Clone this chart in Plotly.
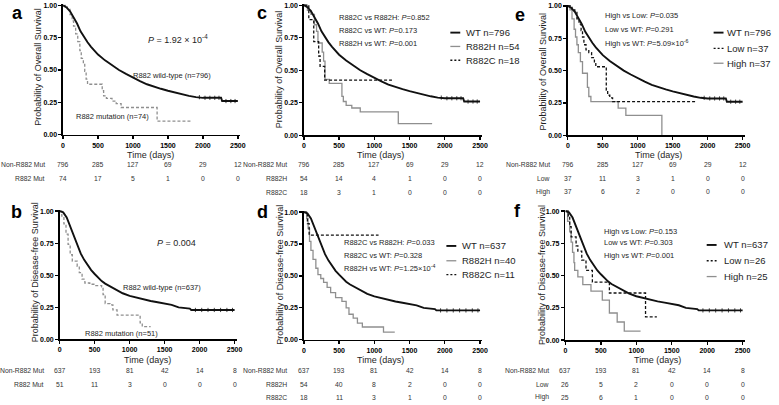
import plotly.graph_objects as go

W, H = 779, 405
FONT = "Liberation Sans, Arial, sans-serif"

# ---------------- data ----------------
day_ticks = [0, 500, 1000, 1500, 2000, 2500]
surv_ticks = [0, 0.25, 0.5, 0.75, 1.0]
surv_ticktext = ["0.00", "0.25", "0.50", "0.75", "1.00"]

# Overall survival, R882 wild-type (n=796)
wt_os_t = [0, 50, 100, 150, 200, 250, 300, 350, 400, 450, 500, 600, 700, 800, 900, 1000,
           1100, 1200, 1300, 1400, 1500, 1600, 1700, 1800, 1900, 2000, 2260, 2275, 2500]
wt_os_s = [1.0, 0.985, 0.955, 0.91, 0.86, 0.80, 0.755, 0.715, 0.68, 0.65, 0.62, 0.575, 0.535,
           0.50, 0.47, 0.44, 0.415, 0.39, 0.37, 0.355, 0.34, 0.325, 0.31, 0.30, 0.29, 0.285,
           0.285, 0.26, 0.26]
wt_os_censor_t = [1950, 2030, 2100, 2170, 2230, 2330, 2400, 2460]
# Overall survival, R882 mutation (n=74)
mut_os_t = [0, 60, 100, 130, 150, 180, 210, 240, 260, 290, 310, 330, 350, 540, 560, 580, 620,
            700, 760, 830, 1345, 1840]
mut_os_s = [1.0, 0.97, 0.93, 0.88, 0.84, 0.78, 0.72, 0.65, 0.59, 0.55, 0.49, 0.43, 0.39, 0.39,
            0.34, 0.30, 0.28, 0.26, 0.24, 0.21, 0.105, 0.105]
# Disease-free survival, R882 wild-type (n=637)
wt_dfs_t = [0, 50, 100, 150, 200, 250, 300, 350, 400, 450, 500, 550, 600, 650, 700, 800, 900,
            1000, 1100, 1200, 1300, 1400, 1500, 1600, 1700, 1860, 1880, 2500]
wt_dfs_s = [1.0, 0.99, 0.95, 0.88, 0.80, 0.73, 0.67, 0.62, 0.575, 0.54, 0.51, 0.48, 0.455,
            0.435, 0.42, 0.39, 0.36, 0.34, 0.325, 0.31, 0.30, 0.29, 0.28, 0.27, 0.25, 0.24,
            0.23, 0.23]
wt_dfs_censor_t = [1940, 2030, 2120, 2210, 2300, 2390, 2470]
# Disease-free survival, R882 mutation (n=51)
mut_dfs_t = [0, 30, 60, 90, 120, 150, 180, 250, 280, 320, 360, 430, 500, 600, 620, 650, 720,
             760, 820, 1140, 1150, 1180, 1300]
mut_dfs_s = [1.0, 0.96, 0.90, 0.82, 0.74, 0.66, 0.61, 0.57, 0.52, 0.47, 0.44, 0.43, 0.42, 0.41,
             0.35, 0.28, 0.27, 0.23, 0.19, 0.19, 0.13, 0.10, 0.10]
# Overall survival by mutation type
r882h_os_t = [0, 50, 100, 150, 180, 200, 260, 280, 300, 360, 540, 560, 600, 680, 800, 1340, 1820]
r882h_os_s = [1.0, 0.96, 0.93, 0.85, 0.80, 0.71, 0.64, 0.57, 0.43, 0.40, 0.30, 0.26, 0.23,
              0.21, 0.18, 0.09, 0.09]
r882c_os_t = [0, 70, 140, 210, 230, 295, 1250]
r882c_os_s = [1.0, 0.89, 0.72, 0.61, 0.53, 0.425, 0.425]
# Disease-free survival by mutation type
r882h_dfs_t = [0, 40, 60, 80, 100, 130, 170, 200, 240, 280, 330, 380, 450, 540, 600, 640, 700,
               760, 830, 1130, 1290]
r882h_dfs_s = [1.0, 0.95, 0.87, 0.77, 0.70, 0.63, 0.56, 0.51, 0.48, 0.45, 0.41, 0.37, 0.33,
               0.30, 0.25, 0.20, 0.17, 0.13, 0.10, 0.06, 0.06]
r882c_dfs_t = [0, 50, 75, 1060]
r882c_dfs_s = [1.0, 0.91, 0.82, 0.82]
# Overall survival by mutation burden
low_os_t = [0, 60, 100, 130, 160, 190, 210, 230, 260, 300, 340, 380, 400, 550, 570, 600, 640, 1830]
low_os_s = [1.0, 0.97, 0.95, 0.90, 0.86, 0.81, 0.76, 0.70, 0.66, 0.64, 0.60, 0.56, 0.53, 0.35,
            0.31, 0.29, 0.26, 0.26]
high_os_t = [0, 30, 60, 90, 110, 130, 150, 180, 210, 280, 300, 330, 720, 830, 1345]
high_os_s = [1.0, 0.97, 0.90, 0.82, 0.76, 0.70, 0.64, 0.57, 0.48, 0.37, 0.30, 0.26, 0.21,
             0.155, 0.0]
# Disease-free survival by mutation burden
low_dfs_t = [0, 40, 60, 80, 150, 175, 230, 290, 380, 620, 1130, 1290]
low_dfs_s = [1.0, 0.96, 0.88, 0.80, 0.73, 0.69, 0.62, 0.54, 0.45, 0.365, 0.18, 0.18]
high_dfs_t = [0, 30, 60, 80, 100, 120, 130, 175, 245, 360, 520, 620, 730, 830, 1060]
high_dfs_s = [1.0, 0.92, 0.84, 0.76, 0.68, 0.60, 0.54, 0.49, 0.43, 0.38, 0.31, 0.21, 0.14,
              0.07, 0.07]

# Numbers at risk
risk_labels_a = ["Non-R882 Mut", "R882 Mut"]
risk_a = [[796, 285, 127, 69, 29, 12], [74, 17, 5, 1, 0, 0]]
risk_labels_b = ["Non-R882 Mut", "R882 Mut"]
risk_b = [[637, 193, 81, 42, 14, 8], [51, 11, 3, 0, 0, 0]]
risk_labels_c = ["Non-R882 Mut", "R882H", "R882C"]
risk_c = [[796, 285, 127, 69, 29, 12], [54, 14, 4, 1, 0, 0], [18, 3, 1, 0, 0, 0]]
risk_labels_d = ["Non-R882 Mut", "R882H", "R882C"]
risk_d = [[637, 193, 81, 42, 14, 8], [54, 40, 8, 2, 0, 0], [18, 11, 3, 1, 0, 0]]
risk_labels_e = ["Non-R882 Mut", "Low", "High"]
risk_e = [[796, 285, 127, 69, 29, 12], [37, 11, 3, 1, 0, 0], [37, 6, 2, 0, 0, 0]]
risk_labels_f = ["Non-R882 Mut", "Low", "High"]
risk_f = [[637, 193, 81, 42, 14, 8], [26, 5, 2, 0, 0, 0], [25, 6, 1, 0, 0, 0]]

# ---------------- styles ----------------
BLACK = "#111111"
GRAY = "#8f8f8f"
TXT = "#1e1e1e"
XMAX = 2530
YMAX = 1.01

fig = go.Figure()
annotations = []
shapes = []
layout_axes = {}


def px_x(p):
    return p / W


def px_y(p):
    return 1 - p / H


def step_at(t, ts, ss):
    val = ss[0]
    for ti, si in zip(ts, ss):
        if ti <= t:
            val = si
    return val


def add_panel(n, x0, x2500, y0, y1):
    s = (x2500 - x0) / 2500.0
    xd = [px_x(x0), px_x(x0 + s * XMAX)]
    ytop = y0 - (y0 - y1) * YMAX
    yd = [px_y(y0), px_y(ytop)]
    sfx = "" if n == 1 else str(n)
    layout_axes["xaxis" + sfx] = dict(
        domain=xd, range=[0, XMAX], anchor="y" + sfx, tickvals=day_ticks,
        ticks="outside", ticklen=3, tickwidth=1.3, tickcolor="black",
        showline=True, linecolor="black", linewidth=1.6, showgrid=False, zeroline=False,
        tickfont=dict(family=FONT, size=7, color="black", weight="bold"), fixedrange=True)
    layout_axes["yaxis" + sfx] = dict(
        domain=yd, range=[0, YMAX], anchor="x" + sfx, tickvals=surv_ticks,
        ticktext=surv_ticktext, ticks="outside", ticklen=3, tickwidth=1.3,
        tickcolor="black", showline=True, linecolor="black", linewidth=1.6,
        showgrid=False, zeroline=False,
        tickfont=dict(family=FONT, size=7, color="black", weight="bold"), fixedrange=True)
    return "x" + sfx, "y" + sfx


def curve(xa, ya, t, sv, color, width, dash="solid", shape="hv"):
    fig.add_trace(go.Scatter(x=t, y=sv, mode="lines", xaxis=xa, yaxis=ya,
                             line=dict(color=color, width=width, dash=dash, shape=shape),
                             showlegend=False, hoverinfo="skip"))


def censor(xa, ya, ct, ts, ss):
    fig.add_trace(go.Scatter(x=ct, y=[step_at(c, ts, ss) for c in ct], mode="markers",
                             xaxis=xa, yaxis=ya, showlegend=False, hoverinfo="skip",
                             marker=dict(symbol="line-ns", size=3,
                                         line=dict(color=BLACK, width=0.8))))


def text(x, y, s, size=8, anchor="left", color=TXT, bold=False, angle=0, xref="paper"):
    annotations.append(dict(
        x=(px_x(x) if xref == "paper" else x), y=px_y(y), xref=xref, yref="paper",
        text=s, showarrow=False, xanchor=anchor, yanchor="middle", textangle=angle,
        font=dict(family=FONT, size=size, color=color, weight=("bold" if bold else "normal"))))


def risk_table(xa, label_x, ys, labels, rows):
    for yy, lab, row in zip(ys, labels, rows):
        text(label_x, yy, lab, size=6.8, anchor="right", color="#333333")
        for d, v in zip(day_ticks, row):
            text(d, yy, str(v), size=6.8, anchor="center", color="#333333", xref=xa)


def legend(x_line, x_text, ys, names, styles):
    for yy, nm, (col, wd, ds) in zip(ys, names, styles):
        shapes.append(dict(type="line", xref="paper", yref="paper",
                           x0=px_x(x_line), x1=px_x(x_line + 10), y0=px_y(yy), y1=px_y(yy),
                           line=dict(color=col, width=wd, dash=ds)))
        text(x_text, yy, nm, size=9.5, anchor="left")


DASH = "3px,2px"
LDASH = "2px,2px"

# ---- panel a ----
xa, ya = add_panel(1, 61.7, 238.3, 134.3, 3.5)
curve(xa, ya, mut_os_t, mut_os_s, GRAY, 1.3, DASH)
curve(xa, ya, wt_os_t, wt_os_s, BLACK, 1.9, shape="linear")
censor(xa, ya, wt_os_censor_t, wt_os_t, wt_os_s)
text(16, 11, "a", size=18, anchor="center", color="black", bold=True)
text(37, 66, "Probability of Overall Survival", size=9, anchor="center", angle=-90)
text(150, 155, "Time (days)", size=9, anchor="center")
text(178, 37, "<i>P</i> = 1.92 × 10<sup>-4</sup>", size=9, anchor="center")
text(130, 74, "R882 wild-type (n=796)", size=7.5)
text(73, 116, "R882 mutation (n=74)", size=7.5)
risk_table(xa, 45, [165, 179], risk_labels_a, risk_a)

# ---- panel b ----
xa, ya = add_panel(2, 58.3, 235.0, 341.7, 211.7)
curve(xa, ya, mut_dfs_t, mut_dfs_s, GRAY, 1.3, DASH)
curve(xa, ya, wt_dfs_t, wt_dfs_s, BLACK, 1.9, shape="linear")
censor(xa, ya, wt_dfs_censor_t, wt_dfs_t, wt_dfs_s)
text(15, 213, "b", size=18, anchor="center", color="black", bold=True)
text(33, 274, "Probability of Disease-free Survival", size=9, anchor="center", angle=-90)
text(147, 362, "Time (days)", size=9, anchor="center")
text(176, 244, "<i>P</i> = 0.004", size=9, anchor="center")
text(120, 289, "R882 wild-type (n=637)", size=7.5)
text(82, 336, "R882 mutation (n=51)", size=7.5)
risk_table(xa, 44, [373, 387], risk_labels_b, risk_b)

# ---- panel c ----
xa, ya = add_panel(3, 305.0, 483.0, 135.0, 3.3)
curve(xa, ya, r882h_os_t, r882h_os_s, GRAY, 1.3)
curve(xa, ya, r882c_os_t, r882c_os_s, BLACK, 1.3, DASH)
curve(xa, ya, wt_os_t, wt_os_s, BLACK, 1.9, shape="linear")
censor(xa, ya, wt_os_censor_t, wt_os_t, wt_os_s)
text(263, 11, "c", size=18, anchor="center", color="black", bold=True)
text(280, 68, "Probability of Overall Survival", size=9, anchor="center", angle=-90)
text(382, 155, "Time (days)", size=9, anchor="center")
text(338, 16, "R882C vs R882H: <i>P</i>=0.852", size=7.5)
text(338, 29, "R882C vs WT: <i>P</i>=0.173", size=7.5)
text(338, 42, "R882H vs WT: <i>P</i>=0.001", size=7.5)
legend(453, 467, [31, 45, 59], ["WT n=796", "R882H n=54", "R882C n=18"],
       [(BLACK, 1.9, "solid"), (GRAY, 1.3, "solid"), (BLACK, 1.3, LDASH)])
risk_table(xa, 290, [165, 179, 193], risk_labels_c, risk_c)

# ---- panel d ----
xa, ya = add_panel(4, 305.0, 483.0, 342.0, 212.7)
curve(xa, ya, r882h_dfs_t, r882h_dfs_s, GRAY, 1.3)
curve(xa, ya, r882c_dfs_t, r882c_dfs_s, BLACK, 1.3, DASH)
curve(xa, ya, wt_dfs_t, wt_dfs_s, BLACK, 1.9, shape="linear")
censor(xa, ya, wt_dfs_censor_t, wt_dfs_t, wt_dfs_s)
text(263, 213, "d", size=18, anchor="center", color="black", bold=True)
text(280, 276, "Probability of Disease-free Survival", size=9, anchor="center", angle=-90)
text(382, 362, "Time (days)", size=9, anchor="center")
text(344, 244, "R882C vs R882H: <i>P</i>=0.033", size=7.5)
text(344, 257, "R882C vs WT: <i>P</i>=0.328", size=7.5)
text(344, 269, "R882H vs WT: <i>P</i>=1.25×10<sup>-4</sup>", size=7.5)
legend(449, 463, [247, 262, 276], ["WT n=637", "R882H n=40", "R882C n=11"],
       [(BLACK, 1.9, "solid"), (GRAY, 1.3, "solid"), (BLACK, 1.3, LDASH)])
risk_table(xa, 290, [373, 387, 400], risk_labels_d, risk_d)

# ---- panel e ----
xa, ya = add_panel(5, 571.7, 748.3, 135.0, 4.0)
curve(xa, ya, high_os_t, high_os_s, GRAY, 1.3)
curve(xa, ya, low_os_t, low_os_s, BLACK, 1.3, DASH)
curve(xa, ya, wt_os_t, wt_os_s, BLACK, 1.9, shape="linear")
censor(xa, ya, wt_os_censor_t, wt_os_t, wt_os_s)
text(523, 13, "e", size=18, anchor="center", color="black", bold=True)
text(547, 70, "Probability of Overall Survival", size=9, anchor="center", angle=-90)
text(663, 155, "Time (days)", size=9, anchor="center")
text(607, 14, "High vs Low: <i>P</i>=0.035", size=7.5)
text(607, 28, "Low vs WT: <i>P</i>=0.291", size=7.5)
text(607, 42, "High vs WT: <i>P</i>=5.09×10<sup>-6</sup>", size=7.5)
legend(719, 731, [31, 47, 62], ["WT n=796", "Low n=37", "High n=37"],
       [(BLACK, 1.9, "solid"), (BLACK, 1.3, LDASH), (GRAY, 1.3, "solid")])
risk_table(xa, 556, [165, 179, 192], risk_labels_e, risk_e)

# ---- panel f ----
xa, ya = add_panel(6, 569.3, 748.3, 342.3, 211.7)
curve(xa, ya, high_dfs_t, high_dfs_s, GRAY, 1.3)
curve(xa, ya, low_dfs_t, low_dfs_s, BLACK, 1.3, DASH)
curve(xa, ya, wt_dfs_t, wt_dfs_s, BLACK, 1.9, shape="linear")
censor(xa, ya, wt_dfs_censor_t, wt_dfs_t, wt_dfs_s)
text(521, 212, "f", size=18, anchor="center", color="black", bold=True)
text(545, 276, "Probability of Disease-free Survival", size=9, anchor="center", angle=-90)
text(662, 362, "Time (days)", size=9, anchor="center")
text(606, 232, "High vs Low: <i>P</i>=0.153", size=7.5)
text(606, 244, "Low vs WT: <i>P</i>=0.303", size=7.5)
text(606, 257, "High vs WT: <i>P</i>=0.001", size=7.5)
legend(712, 727, [246, 262, 278], ["WT n=637", "Low n=26", "High n=25"],
       [(BLACK, 1.9, "solid"), (BLACK, 1.3, LDASH), (GRAY, 1.3, "solid")])
risk_table(xa, 555, [373, 387, 400], risk_labels_f, risk_f)

fig.update_layout(
    width=W, height=H, autosize=False,
    margin=dict(l=0, r=0, t=0, b=0, pad=0),
    paper_bgcolor="white", plot_bgcolor="white",
    font=dict(family=FONT, color=TXT),
    showlegend=False,
    annotations=annotations, shapes=shapes,
    **layout_axes,
)

fig.write_html("out.html", config={"displayModeBar": False, "staticPlot": True},
               post_script="document.body.style.margin='0';document.body.style.overflow='hidden';")
